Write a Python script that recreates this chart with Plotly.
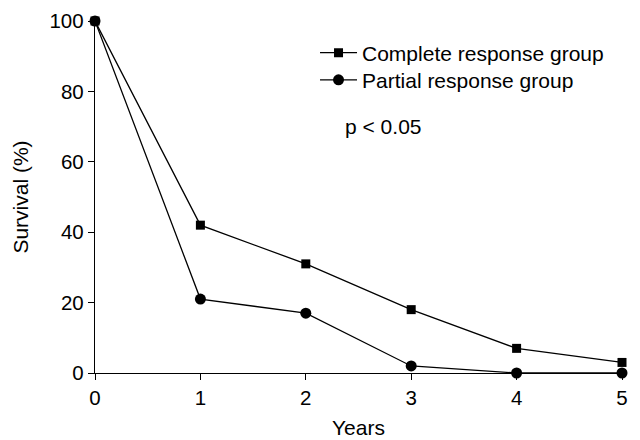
import plotly.graph_objects as go

years = [0, 1, 2, 3, 4, 5]
complete_response = [100, 42, 31, 18, 7, 3]
partial_response = [100, 21, 17, 2, 0, 0]
y_ticks = [0, 20, 40, 60, 80, 100]
x_ticks = [0, 1, 2, 3, 4, 5]

fig = go.Figure()
fig.add_trace(go.Scatter(x=years, y=complete_response, mode="lines+markers",
                         name="Complete response group", legend="legend",
                         line=dict(color="black", width=1.3),
                         marker=dict(symbol="square", size=9, color="black"),
                         cliponaxis=False))
fig.add_trace(go.Scatter(x=years, y=partial_response, mode="lines+markers",
                         name="Partial response group", legend="legend2",
                         line=dict(color="black", width=1.3),
                         marker=dict(symbol="circle", size=11, color="black"),
                         cliponaxis=False))

font = dict(family="Liberation Sans, Arial, sans-serif", size=21, color="black")
tickfont = dict(family="Liberation Sans, Arial, sans-serif", size=20.5, color="black")
leg = dict(xanchor="left", yanchor="middle", bgcolor="rgba(0,0,0,0)",
           font=font, itemwidth=37)
fig.update_layout(
    width=632, height=432,
    margin=dict(l=87, r=18, t=13, b=67),
    paper_bgcolor="white", plot_bgcolor="white",
    font=font,
    showlegend=True,
    legend=dict(x=0.4175, y=0.909, **leg),
    legend2=dict(x=0.4175, y=0.832, **leg),
    xaxis=dict(range=[0, 5], tickvals=x_ticks, showline=True, linecolor="black",
               linewidth=1.4, ticks="outside", ticklen=6, tickcolor="black",
               tickwidth=1.4, showgrid=False, zeroline=False, automargin=False,
               tickfont=tickfont,
               title=dict(text="Years", font=font, standoff=12)),
    yaxis=dict(range=[0, 100], tickvals=y_ticks, showline=True, linecolor="black",
               linewidth=1.4, ticks="outside", ticklen=6, tickcolor="black",
               tickwidth=1.4, showgrid=False, zeroline=False, automargin=False,
               tickfont=tickfont,
               title=dict(text="Survival (%)", font=font, standoff=15)),
    annotations=[dict(text="p < 0.05", x=0.470, y=0.70, xref="paper", yref="paper",
                      xanchor="left", yanchor="middle", showarrow=False, font=font)],
)
fig.write_html("out.html")
